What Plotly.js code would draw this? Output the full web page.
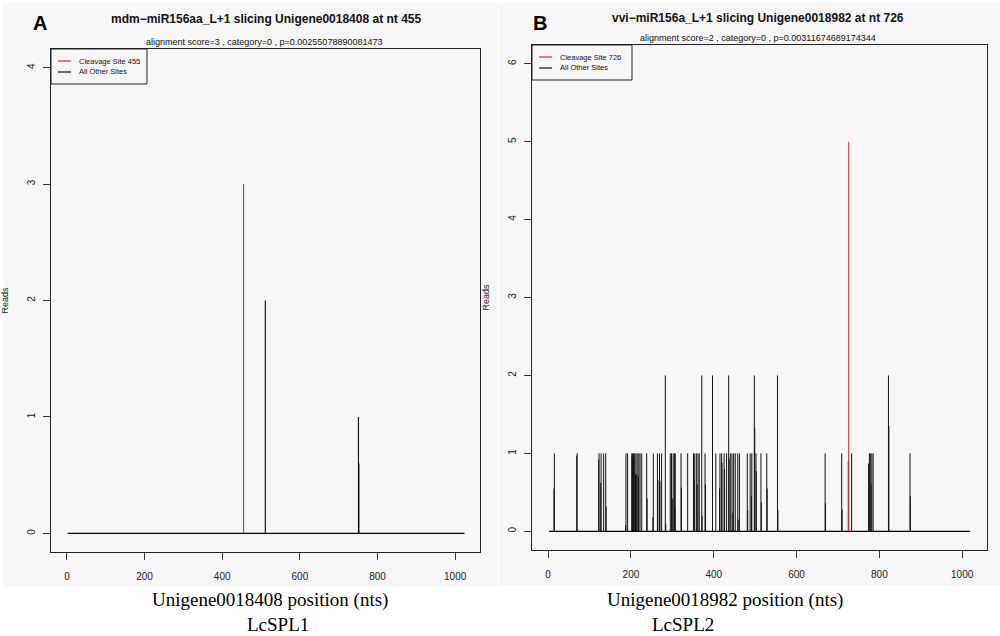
<!DOCTYPE html>
<html>
<head>
<meta charset="utf-8">
<script src="https://cdn.plot.ly/plotly-3.0.1.min.js"></script>
<style>html,body{margin:0;padding:0;background:#fff;}#chart{width:1000px;height:636px;}</style>
</head>
<body>
<div id="chart"></div>
<script>
// ---------- Panel A data (LcSPL1, Unigene0018408) ----------
const titleA = "mdm\u2212miR156aa_L+1 slicing Unigene0018408 at nt 455";
const subtitleA = "alignment score=3 , category=0 , p=0.00255078890081473";
const cleavagePosA = [455];
const cleavageReadsA = [3];
const otherPosA = [511, 751, 752];
const otherReadsA = [2, 1, 0.6];
const seqRangeA = [2, 1024];
const xLabelA = "Unigene0018408 position (nts)";
const geneA = "LcSPL1";

// ---------- Panel B data (LcSPL2, Unigene0018982) ----------
const titleB = "vvi\u2212miR156a_L+1 slicing Unigene0018982 at nt 726";
const subtitleB = "alignment score=2 , category=0 , p=0.00311674689174344";
const cleavagePosB = [726];
const cleavageReadsB = [5];
const otherPosB = [
  14, 15, 69, 70, 122, 123, 127, 128, 134, 139, 140, 187, 188, 192,
  202, 203, 204, 206, 207, 209, 211, 212, 214, 215, 218, 219, 222, 226,
  238, 239, 253, 254, 264, 265, 269, 270, 274, 283, 284,
  295, 298, 301, 302, 305, 306, 307, 321, 322, 337,
  351, 352, 354, 358, 360, 362, 365, 371, 372, 379, 380, 397, 405,
  414, 415, 419, 420, 425, 426, 431, 436, 437, 440, 444, 446, 448, 452,
  458, 459, 462, 481, 482, 488, 491, 492, 498, 499, 502, 503,
  514, 515, 528, 529, 554, 555, 669, 670, 709, 710, 725, 733,
  774, 776, 779, 780, 782, 785, 822, 823, 874, 875
];
const otherReadsB = [
  0.55, 1, 0.97, 1, 0.92, 1, 0.62, 1, 1, 1, 0.32, 0.08, 1, 1,
  1, 0.95, 1, 1, 0.95, 1, 0.73, 1, 0.73, 1, 0.7, 1, 1, 1,
  1, 0.42, 0.18, 1, 1, 0.66, 1, 0.64, 1, 2, 0.1,
  1, 1, 0.42, 1, 1, 0.28, 1, 1, 0.56, 1,
  1, 0.65, 1, 1, 0.6, 1, 1, 2, 0.2, 1, 0.6, 2, 1,
  0.55, 1, 1, 0.88, 1, 0.8, 1, 2, 0.93, 1, 1, 0.24, 1, 1,
  1, 0.15, 1, 1, 0.27, 1, 0.45, 1, 2, 1.33, 1, 0.77,
  1, 0.37, 1, 0.55, 2, 0.27, 1, 0.36, 1, 0.28, 0.9, 1,
  0.87, 1, 1, 0.6, 1, 1, 2, 1.35, 1, 0.45
];
const seqRangeB = [2, 1019];
const xLabelB = "Unigene0018982 position (nts)";
const geneB = "LcSPL2";

const xTicks = [0, 200, 400, 600, 800, 1000];
const yTicksA = [0, 1, 2, 3, 4];
const yTicksB = [0, 1, 2, 3, 4, 5, 6];
const legendLabels = ["Cleavage Site ", "All Other Sites"];

// build needle (type='h') coordinates
function needles(pos, reads) {
  const x = [], y = [];
  for (let i = 0; i < pos.length; i++) {
    x.push(pos[i], pos[i], null);
    y.push(0, reads[i], null);
  }
  return {x, y};
}

const nA = needles(otherPosA, otherReadsA);
const cA = needles(cleavagePosA, cleavageReadsA);
const nB = needles(otherPosB, otherReadsB);
const cB = needles(cleavagePosB, cleavageReadsB);

const RED = "#d0303c";
const BG = "#f6f6f6";
const SANS = "Liberation Sans, Arial, sans-serif";
const tickFont = {family: SANS, size: 10, color: "#222"};

const traces = [
  {x: seqRangeA, y: [0, 0], xaxis: "x", yaxis: "y", mode: "lines", line: {color: "#000", width: 1.2}, showlegend: false, hoverinfo: "skip"},
  {x: nA.x, y: nA.y, xaxis: "x", yaxis: "y", mode: "lines", name: legendLabels[1], line: {color: "#000", width: 1.1}, showlegend: false},
  {x: cA.x, y: cA.y, xaxis: "x", yaxis: "y", mode: "lines", name: legendLabels[0] + cleavagePosA[0], line: {color: RED, width: 1.1}, showlegend: false},
  {x: seqRangeB, y: [0, 0], xaxis: "x2", yaxis: "y2", mode: "lines", line: {color: "#000", width: 1.2}, showlegend: false, hoverinfo: "skip"},
  {x: nB.x, y: nB.y, xaxis: "x2", yaxis: "y2", mode: "lines", name: legendLabels[1], line: {color: "#111", width: 1}, showlegend: false},
  {x: cB.x, y: cB.y, xaxis: "x2", yaxis: "y2", mode: "lines", name: legendLabels[0] + cleavagePosB[0], line: {color: RED, width: 1.1}, showlegend: false}
];

function xaxisDef(domain, range, anchor) {
  return {domain, range, anchor, tickvals: xTicks, ticktext: xTicks.map(String), ticks: "outside", ticklen: 7, tickwidth: 1, tickcolor: "#333",
    ticklabelstandoff: 8,
    showline: true, mirror: true, linecolor: "#222", linewidth: 1.2, showgrid: false, zeroline: false, tickfont: tickFont};
}
function yaxisDef(domain, range, anchor, tv) {
  return {domain, range, anchor, tickvals: tv, ticktext: tv.map(String), ticks: "outside", ticklen: 7, tickwidth: 1, tickcolor: "#333",
    ticklabelstandoff: 4,
    tickangle: -90, showline: true, mirror: true, linecolor: "#222", linewidth: 1.2, showgrid: false, zeroline: false, tickfont: tickFont,
    title: {text: "Reads", font: {family: SANS, size: 9, color: "#222"}, standoff: 15}};
}

const H = 636, W = 1000;
const px = v => v / W, py = v => 1 - v / H;

// manual R-style legends (box, sample lines, labels)
function legendParts(x0, x1, y0, y1, cleavPos) {
  const shapes = [
    {type: "rect", xref: "paper", yref: "paper", x0: px(x0), x1: px(x1), y0: py(y1), y1: py(y0), fillcolor: BG, line: {color: "#222", width: 1}},
    {type: "line", xref: "paper", yref: "paper", x0: px(x0 + 7), x1: px(x0 + 20), y0: py(y0 + 12), y1: py(y0 + 12), line: {color: RED, width: 1.2}},
    {type: "line", xref: "paper", yref: "paper", x0: px(x0 + 7), x1: px(x0 + 20), y0: py(y0 + 23), y1: py(y0 + 23), line: {color: "#111", width: 1.2}}
  ];
  const anns = [
    {text: legendLabels[0] + cleavPos, xref: "paper", yref: "paper", x: px(x0 + 26), y: py(y0 + 12), xanchor: "left", yanchor: "middle", showarrow: false, font: {family: SANS, size: 7.5, color: "#111"}},
    {text: legendLabels[1], xref: "paper", yref: "paper", x: px(x0 + 26), y: py(y0 + 23), xanchor: "left", yanchor: "middle", showarrow: false, font: {family: SANS, size: 7.5, color: "#111"}}
  ];
  return {shapes, anns};
}
const legA = legendParts(51, 147, 49, 84, cleavagePosA[0]);
const legB = legendParts(532, 632, 45, 80, cleavagePosB[0]);

function ann(text, x, y, font) {
  return {text, xref: "paper", yref: "paper", x: px(x), y: py(y), xanchor: "center", yanchor: "middle", showarrow: false, font};
}
const titleFont = {family: SANS, size: 12, color: "#111"};
const subFont = {family: SANS, size: 9, color: "#111"};
const serifFont = {family: "Liberation Serif, Times New Roman, serif", size: 19, color: "#000"};
const letterFont = {family: SANS, size: 20, color: "#000"};

const layout = {
  width: W, height: H,
  margin: {l: 0, r: 0, t: 0, b: 0},
  paper_bgcolor: "#ffffff", plot_bgcolor: BG,
  showlegend: false,
  xaxis: xaxisDef([px(51), px(480)], [-41, 1064], "y"),
  yaxis: yaxisDef([py(552), py(49)], [-0.16, 4.16], "x", yTicksA),
  xaxis2: xaxisDef([px(532), px(987)], [-39, 1060], "y2"),
  yaxis2: yaxisDef([py(550), py(45)], [-0.24, 6.24], "x2", yTicksB),
  shapes: [
    {type: "rect", xref: "paper", yref: "paper", x0: px(3), x1: px(498), y0: py(587), y1: py(3), fillcolor: BG, line: {width: 0}, layer: "below"},
    {type: "rect", xref: "paper", yref: "paper", x0: px(499), x1: 1, y0: py(585), y1: py(3), fillcolor: BG, line: {width: 0}, layer: "below"}
  ].concat(legA.shapes, legB.shapes),
  annotations: [
    ann("<b>A</b>", 40, 23, letterFont),
    ann("<b>B</b>", 540, 23, letterFont),
    ann("<b>" + titleA + "</b>", 266, 19, titleFont),
    ann("<b>" + titleB + "</b>", 758, 18, titleFont),
    ann(subtitleA, 264, 42, subFont),
    ann(subtitleB, 758, 38, subFont),
    ann(xLabelA, 270, 600, serifFont),
    ann(geneA, 278, 624, serifFont),
    ann(xLabelB, 725, 600, serifFont),
    ann(geneB, 683, 624, serifFont)
  ].concat(legA.anns, legB.anns)
};

Plotly.newPlot("chart", traces, layout, {displayModeBar: false, staticPlot: true});
</script>
</body>
</html>
